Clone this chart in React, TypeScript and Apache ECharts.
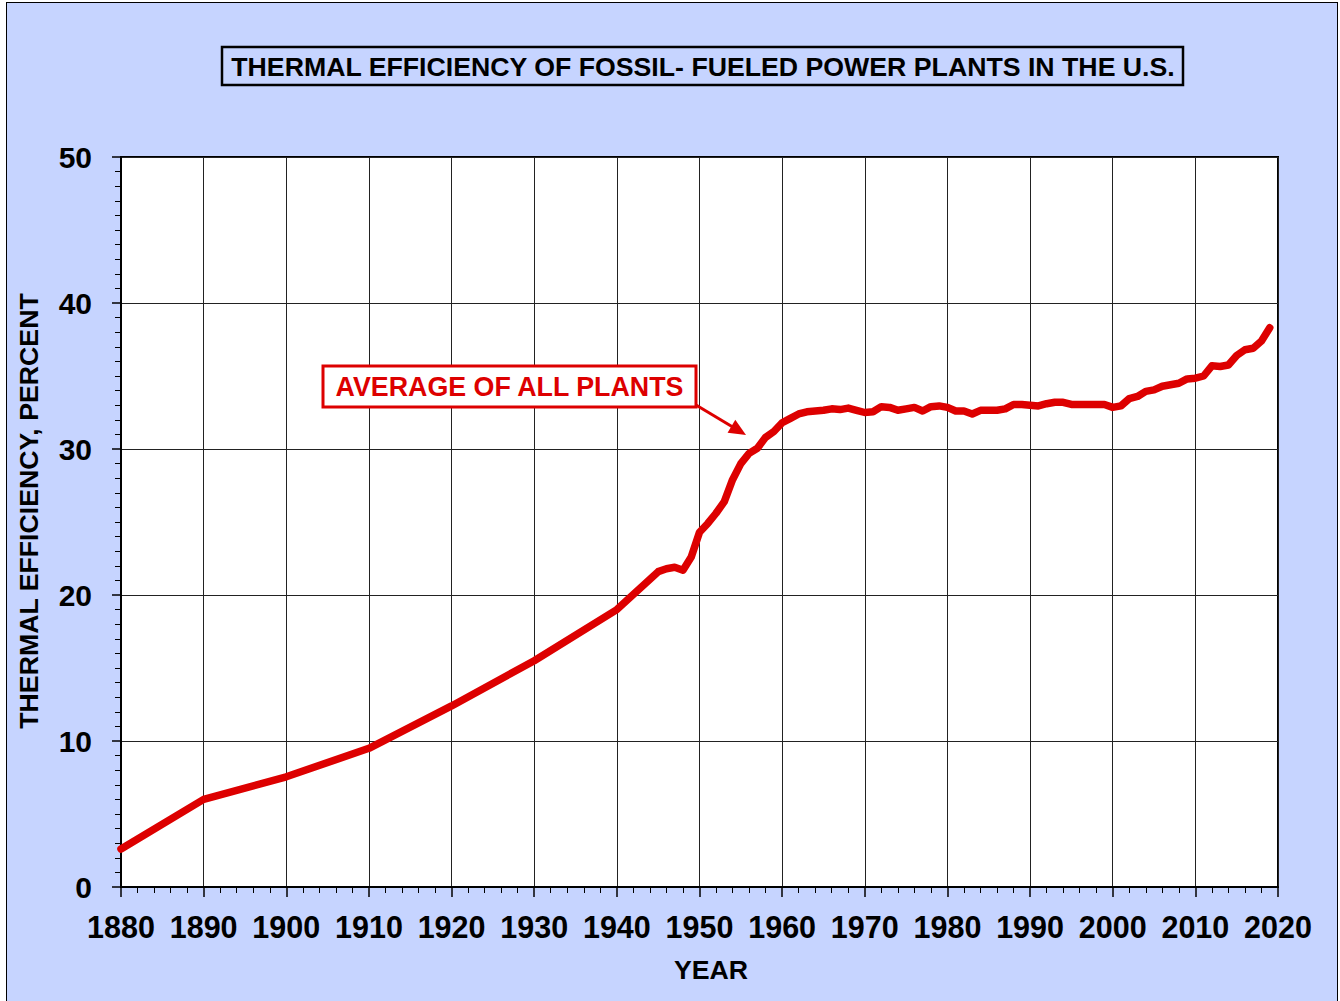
import React, { useEffect, useRef } from "react";
import * as echarts from "echarts";

const years: number[] = [
  1880, 1890, 1900, 1910, 1920, 1930, 1940,
  1945, 1946, 1947, 1948, 1949, 1950, 1951, 1952, 1953, 1954, 1955, 1956, 1957, 1958, 1959,
  1960, 1961, 1962, 1963, 1964, 1965, 1966, 1967, 1968, 1969,
  1970, 1971, 1972, 1973, 1974, 1975, 1976, 1977, 1978, 1979,
  1980, 1981, 1982, 1983, 1984, 1985, 1986, 1987, 1988, 1989,
  1990, 1991, 1992, 1993, 1994, 1995, 1996, 1997, 1998, 1999,
  2000, 2001, 2002, 2003, 2004, 2005, 2006, 2007, 2008, 2009,
  2010, 2011, 2012, 2013, 2014, 2015, 2016, 2017, 2018, 2019,
];

const efficiency: number[] = [
  2.6, 6.0, 7.55, 9.5, 12.4, 15.5, 19.0,
  21.6, 21.8, 21.9, 21.7, 22.6, 24.3, 24.9, 25.6, 26.4, 27.9, 29.0, 29.7, 30.05, 30.8, 31.2,
  31.8, 32.1, 32.4, 32.55, 32.6, 32.65, 32.75, 32.7, 32.8, 32.65,
  32.5, 32.55, 32.9, 32.85, 32.65, 32.75, 32.85, 32.6, 32.9, 32.95,
  32.85, 32.6, 32.6, 32.4, 32.65, 32.65, 32.65, 32.75, 33.05, 33.05,
  33.0, 32.95, 33.1, 33.2, 33.2, 33.05, 33.05, 33.05, 33.05, 33.05,
  32.85, 32.95, 33.45, 33.6, 33.95, 34.05, 34.3, 34.4, 34.5, 34.8,
  34.85, 35.0, 35.7, 35.65, 35.75, 36.4, 36.8, 36.9, 37.4, 38.3,
];

const TITLE = "THERMAL EFFICIENCY OF FOSSIL- FUELED POWER PLANTS IN THE U.S.";
const ANNOTATION = "AVERAGE OF ALL PLANTS";
const X_NAME = "YEAR";
const Y_NAME = "THERMAL EFFICIENCY, PERCENT";

const FONT = "'Liberation Sans', Arial, Helvetica, sans-serif";
const RED = "#DD0000";
const BG = "#C6D4FF";

export default function App() {
  const ref = useRef<HTMLDivElement>(null);

  useEffect(() => {
    if (!ref.current) return;
    const chart = echarts.init(ref.current, undefined, { renderer: "svg" });
    const data = years.map((y, i) => [y, efficiency[i]]);

    // arrow geometry
    const ax0 = 696, ay0 = 405, ax1 = 746, ay1 = 435;
    const dx = ax1 - ax0, dy = ay1 - ay0;
    const len = Math.sqrt(dx * dx + dy * dy);
    const ux = dx / len, uy = dy / len;
    const hl = 17, hw = 7.5;
    const bx = ax1 - ux * hl, by = ay1 - uy * hl;

    chart.setOption({
      animation: false,
      backgroundColor: "transparent",
      textStyle: { fontFamily: FONT },
      grid: {
        left: 121,
        right: 62,
        top: 157,
        bottom: 114,
        show: true,
        backgroundColor: "#ffffff",
        borderColor: "#000000",
        borderWidth: 2,
      },
      xAxis: {
        type: "value",
        min: 1880,
        max: 2020,
        interval: 10,
        axisLine: { show: true, onZero: false, lineStyle: { color: "#000", width: 2 } },
        axisTick: { show: true, inside: false, length: 10, lineStyle: { color: "#000", width: 1.5 } },
        minorTick: { show: true, splitNumber: 5, length: 6, lineStyle: { color: "#000", width: 1 } },
        splitLine: { show: true, lineStyle: { color: "#222", width: 1 } },
        axisLabel: {
          fontFamily: FONT,
          fontWeight: "bold",
          fontSize: 30.5,
          color: "#000",
          margin: 24,
          formatter: (v: number) => String(v),
        },
      },
      yAxis: {
        type: "value",
        min: 0,
        max: 50,
        interval: 10,
        axisLine: { show: true, onZero: false, lineStyle: { color: "#000", width: 2 } },
        axisTick: { show: true, inside: false, length: 9, lineStyle: { color: "#000", width: 1.5 } },
        minorTick: { show: true, splitNumber: 10, length: 6, lineStyle: { color: "#000", width: 1 } },
        splitLine: { show: true, lineStyle: { color: "#222", width: 1 } },
        axisLabel: {
          fontFamily: FONT,
          fontWeight: "bold",
          fontSize: 30,
          color: "#000",
          margin: 29,
        },
      },
      series: [
        {
          type: "line",
          data,
          showSymbol: false,
          smooth: false,
          lineStyle: { color: RED, width: 7.5, cap: "round", join: "round" },
          z: 5,
        },
      ],
      graphic: [
        {
          type: "rect",
          shape: { x: 222, y: 47, width: 961, height: 38 },
          style: { fill: BG, stroke: "#000", lineWidth: 2.5 },
          z: 10,
        },
        {
          type: "text",
          x: 703,
          y: 67,
          style: {
            text: TITLE,
            fontFamily: FONT,
            fontWeight: "bold",
            fontSize: 26.7,
            fill: "#000",
            align: "center",
            verticalAlign: "middle",
          },
          z: 11,
        },
        {
          type: "rect",
          shape: { x: 323, y: 366, width: 373, height: 41 },
          style: { fill: "#fff", stroke: RED, lineWidth: 3 },
          z: 10,
        },
        {
          type: "text",
          x: 509.5,
          y: 387,
          style: {
            text: ANNOTATION,
            fontFamily: FONT,
            fontWeight: "bold",
            fontSize: 26.8,
            fill: RED,
            align: "center",
            verticalAlign: "middle",
          },
          z: 11,
        },
        {
          type: "line",
          shape: { x1: ax0, y1: ay0, x2: bx + ux * 2, y2: by + uy * 2 },
          style: { stroke: RED, lineWidth: 3 },
          z: 10,
        },
        {
          type: "polygon",
          shape: {
            points: [
              [ax1, ay1],
              [bx - uy * hw, by + ux * hw],
              [bx + uy * hw, by - ux * hw],
            ],
          },
          style: { fill: RED },
          z: 10,
        },
        {
          type: "text",
          x: 711,
          y: 970,
          style: {
            text: X_NAME,
            fontFamily: FONT,
            fontWeight: "bold",
            fontSize: 26.7,
            fill: "#000",
            align: "center",
            verticalAlign: "middle",
          },
        },
        {
          type: "text",
          x: 29,
          y: 511,
          rotation: Math.PI / 2,
          style: {
            text: Y_NAME,
            fontFamily: FONT,
            fontWeight: "bold",
            fontSize: 26.7,
            fill: "#000",
            align: "center",
            verticalAlign: "middle",
          },
        },
      ],
    });

    return () => chart.dispose();
  }, []);

  return (
    <div
      style={{
        position: "absolute",
        left: 0,
        top: 0,
        width: 1340,
        height: 1001,
        overflow: "hidden",
        background: "#ffffff",
      }}
    >
      <div
        style={{
          position: "absolute",
          left: 6,
          top: 2,
          width: 1332,
          height: 1020,
          background: BG,
          border: "1.5px solid #000",
          boxSizing: "border-box",
        }}
      />
      <div
        ref={ref}
        style={{ position: "absolute", left: 0, top: 0, width: 1340, height: 1001 }}
      />
    </div>
  );
}
